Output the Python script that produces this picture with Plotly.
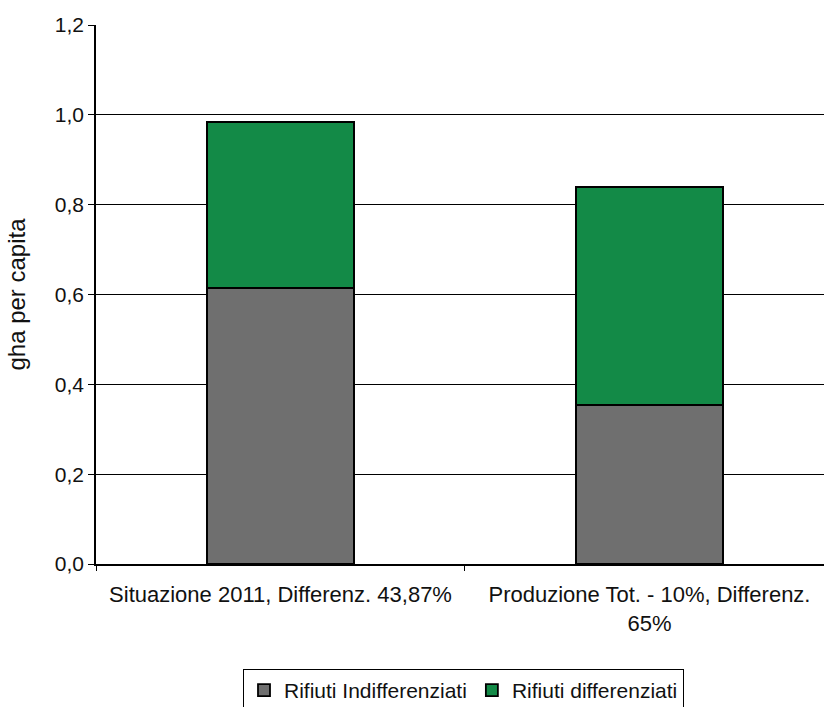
import plotly.graph_objects as go

# Ecological footprint of waste, gha per capita
categories = ["Situazione 2011, Differenz. 43,87%", "Produzione Tot. - 10%, Differenz. 65%"]
tick_labels = ["Situazione 2011, Differenz. 43,87%", "Produzione Tot. - 10%, Differenz.<br>65%"]
indifferenziati = [0.615, 0.354]
differenziati = [0.369, 0.486]
y_ticks = [0.0, 0.2, 0.4, 0.6, 0.8, 1.0, 1.2]

FONT = "Liberation Sans, Arial, sans-serif"
INK = "#111111"

fig = go.Figure()
fig.add_trace(go.Bar(
    x=categories, y=indifferenziati, name="Rifiuti Indifferenziati",
    marker=dict(color="#6f6f6f", line=dict(color="#000000", width=1.8)),
    width=0.4,
))
fig.add_trace(go.Bar(
    x=categories, y=differenziati, name="Rifiuti differenziati",
    marker=dict(color="#138a47", line=dict(color="#000000", width=1.8)),
    width=0.4,
))

fig.update_layout(
    barmode="stack",
    width=824, height=707,
    margin=dict(l=96, r=0, t=25, b=143),
    paper_bgcolor="white", plot_bgcolor="white",
    separators=",.",
    font=dict(family=FONT, size=21, color=INK),
    showlegend=True,
    legend=dict(
        orientation="h",
        xref="container", yref="container",
        x=0.5625, xanchor="center",
        y=1 - 669 / 707, yanchor="top",
        bordercolor="#000000", borderwidth=1,
        font=dict(family=FONT, size=21, color=INK),
        traceorder="normal",
        itemwidth=30,
        tracegroupgap=0,
    ),
)

fig.update_xaxes(
    range=[-0.5, 1.473],
    tickmode="array", tickvals=categories, ticktext=tick_labels,
    tickson="boundaries", ticks="outside", ticklen=5, tickcolor="#000000",
    ticklabelstandoff=10,
    showline=True, linecolor="#000000", linewidth=1.5,
    showgrid=False,
    tickfont=dict(family=FONT, size=22, color=INK),
)
fig.update_yaxes(
    range=[0, 1.2],
    tickmode="array", tickvals=y_ticks, tickformat=".1f",
    ticks="outside", ticklen=6, tickcolor="#000000",
    showline=True, linecolor="#000000", linewidth=1.5,
    showgrid=True, gridcolor="#000000", gridwidth=1,
    zeroline=False,
    tickfont=dict(family=FONT, size=21, color=INK),
    title=dict(text="gha per capita", standoff=22,
               font=dict(family=FONT, size=24, color=INK)),
)

fig.write_html("out.html")
